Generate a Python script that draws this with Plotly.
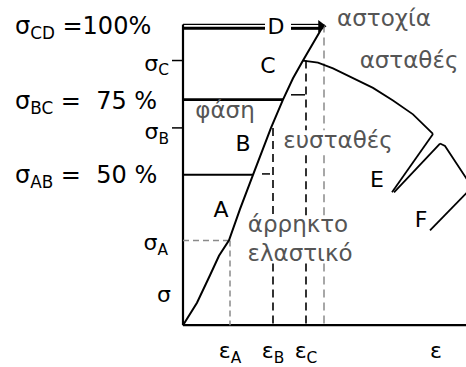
import plotly.graph_objects as go

# Stress-strain path O -> A -> B -> C -> D (strain in arbitrary units, stress in % of sigma_CD)
strain_curve = [0.00, 0.14, 0.27, 0.36, 0.46, 0.57, 0.70, 0.79, 0.88, 1.00, 1.10, 1.20, 1.30, 1.41]
stress_curve = [0.0, 7.5, 16.6, 23.1, 28.2, 38.6, 50.0, 57.8, 65.6, 75.0, 82.1, 88.0, 93.8, 100.0]

# Unstable branch leaving C
strain_unstable = [1.20, 1.35, 1.50, 1.70, 1.90, 2.10, 2.30, 2.50]
stress_unstable = [88.0, 87.3, 85.4, 82.1, 78.9, 74.7, 70.1, 63.6]

# Branches towards E and F
strain_e1 = [2.50, 2.09]
stress_e1 = [63.6, 44.2]
strain_e2 = [2.57, 2.11]
stress_e2 = [60.4, 44.2]
strain_tail = [2.57, 2.62, 2.86]
stress_tail = [60.4, 59.6, 47.5]
strain_f = [2.47, 2.86]
stress_f = [31.5, 44.8]

# Characteristic levels
sigma_cd, sigma_bc, sigma_ab = 100.0, 75.0, 50.0
sigma_a, sigma_b, sigma_c = 28.2, 65.6, 88.0
eps_a, eps_b, eps_c, eps_d = 0.47, 0.90, 1.23, 1.41
eps_bc_end, eps_ab_end = 1.00, 0.70
eps_cd_gap = [0.82, 1.08]   # gap in the sigma_CD line around the letter D
eps_max = 2.83
eps_axis_label = 2.53

# stress bands kept free of projection lines where region names are written
band_stable = (56.5, 64.8)
band_elastic = (20.5, 36.5)

x_tick_vals = [eps_a, eps_b, eps_c, eps_axis_label]
x_tick_text = ["ε<sub>A</sub>", "ε<sub>B</sub>", "ε<sub>C</sub>", "ε"]

BLACK = "#000000"
GRAY = "#555555"
DASH_GRAY = "#8a8a8a"
FONT = "DejaVu Sans"

fig = go.Figure()


def line(xs, ys, color=BLACK, width=2.0, dash="solid"):
    fig.add_trace(go.Scatter(x=xs, y=ys, mode="lines", cliponaxis=False,
                             line=dict(color=color, width=width, dash=dash),
                             hoverinfo="skip", showlegend=False))


def vertical_with_gaps(x, top, gaps, **kw):
    xs, ys = [x, x], [top]
    for hi, lo in gaps:
        if hi < top:
            ys += [hi, None, lo]
            xs += [None, x, x]
    ys.append(0)
    line(xs, ys, **kw)


# axes drawn as diagram lines from the origin
line([0, 0], [0, sigma_cd], width=2.2)
line([0, eps_max], [0, 0], width=2.2)
# y tick marks for sigma_C and sigma_B
for s in (sigma_c, sigma_b):
    line([-0.11, 0], [s, s], width=1.5)

# sigma_CD double line and arrow to D
line([0, eps_cd_gap[0]], [sigma_cd, sigma_cd], width=1.2)
line([0, eps_cd_gap[0]], [sigma_cd - 1.3, sigma_cd - 1.3], width=3.0)
line([eps_cd_gap[1], eps_d - 0.04], [sigma_cd, sigma_cd], width=1.2)
line([eps_cd_gap[1], eps_d - 0.04], [sigma_cd - 1.3, sigma_cd - 1.3], width=3.0)
fig.add_trace(go.Scatter(x=[eps_d - 0.03], y=[sigma_cd - 0.6], mode="markers", cliponaxis=False,
                         marker=dict(symbol="triangle-right", size=11, color=BLACK),
                         hoverinfo="skip", showlegend=False))

# level lines sigma_BC and sigma_AB
line([0, eps_bc_end], [sigma_bc, sigma_bc], width=2.6)
line([0, eps_ab_end], [sigma_ab, sigma_ab], width=2.0)

# projection lines
line([0, eps_a], [sigma_a, sigma_a], color=DASH_GRAY, width=1.5, dash="6px,4px")
line([eps_a, eps_a], [sigma_a, 0], color=DASH_GRAY, width=1.5, dash="6px,4px")
vertical_with_gaps(eps_b, sigma_b, [band_elastic[::-1]], color=BLACK, width=1.6, dash="8px,5px")
vertical_with_gaps(eps_c, sigma_c, [band_stable[::-1], band_elastic[::-1]],
                   color=BLACK, width=1.6, dash="8px,5px")
vertical_with_gaps(eps_d, sigma_cd, [band_stable[::-1], band_elastic[::-1]],
                   color=DASH_GRAY, width=1.5, dash="8px,5px")
line([1.08, 1.22], [76.6, 76.6], width=1.5)
line([0.79, 0.87], [50.3, 50.3], width=1.5)

# curves
line(strain_curve, stress_curve, width=2.0)
line(strain_unstable, stress_unstable, width=1.8)
line(strain_e1, stress_e1, width=1.8)
line(strain_e2, stress_e2, width=1.8)
line(strain_tail, stress_tail, width=1.8)
line(strain_f, stress_f, width=1.8)


def label(x, y, text, size=22, color=BLACK, pos="middle center"):
    fig.add_trace(go.Scatter(x=[x], y=[y], mode="text", text=[text], textposition=pos,
                             cliponaxis=False, hoverinfo="skip", showlegend=False,
                             textfont=dict(family=FONT, size=size, color=color)))


# left-hand stress labels
label(-1.68, 98.7, "σ<sub>CD</sub> =100%", size=24, pos="middle right")
label(-1.68, 74.0, "σ<sub>BC</sub> =  75 %", size=24, pos="middle right")
label(-1.68, 49.4, "σ<sub>AB</sub> =  50 %", size=24, pos="middle right")
label(-0.14, sigma_c - 1.5, "σ<sub>C</sub>", pos="middle left")
label(-0.14, sigma_b - 2.0, "σ<sub>B</sub>", pos="middle left")
label(-0.15, sigma_a - 1.5, "σ<sub>A</sub>", pos="middle left")
label(-0.12, 9.7, "σ", pos="middle left")

# points
label(0.38, 37.7, "A")
label(0.60, 59.7, "B")
label(0.85, 85.7, "C")
label(0.93, 98.7, "D")
label(1.94, 47.7, "E")
label(2.38, 34.4, "F")

# regions
label(2.01, 101.3, "αστοχία", size=23, color=GRAY)
label(2.26, 87.3, "ασταθές", size=23, color=GRAY)
label(0.42, 70.8, "φάση", size=23, color=GRAY)
label(1.55, 60.7, "ευσταθές", size=23, color=GRAY)
label(1.15, 32.8, "άρρηκτο", size=23, color=GRAY)
label(1.17, 23.4, "ελαστικό", size=23, color=GRAY)

fig.update_layout(
    width=466, height=367,
    margin=dict(l=0, r=0, t=0, b=24),
    paper_bgcolor="white", plot_bgcolor="white",
    xaxis=dict(range=[-1.83, 2.83], showgrid=False, zeroline=False, showline=False,
               tickmode="array", tickvals=x_tick_vals, ticktext=x_tick_text,
               ticks="", tickfont=dict(family=FONT, size=22, color=BLACK)),
    yaxis=dict(range=[-3.25, 108.12], visible=False),
)

fig.write_html("out.html")
